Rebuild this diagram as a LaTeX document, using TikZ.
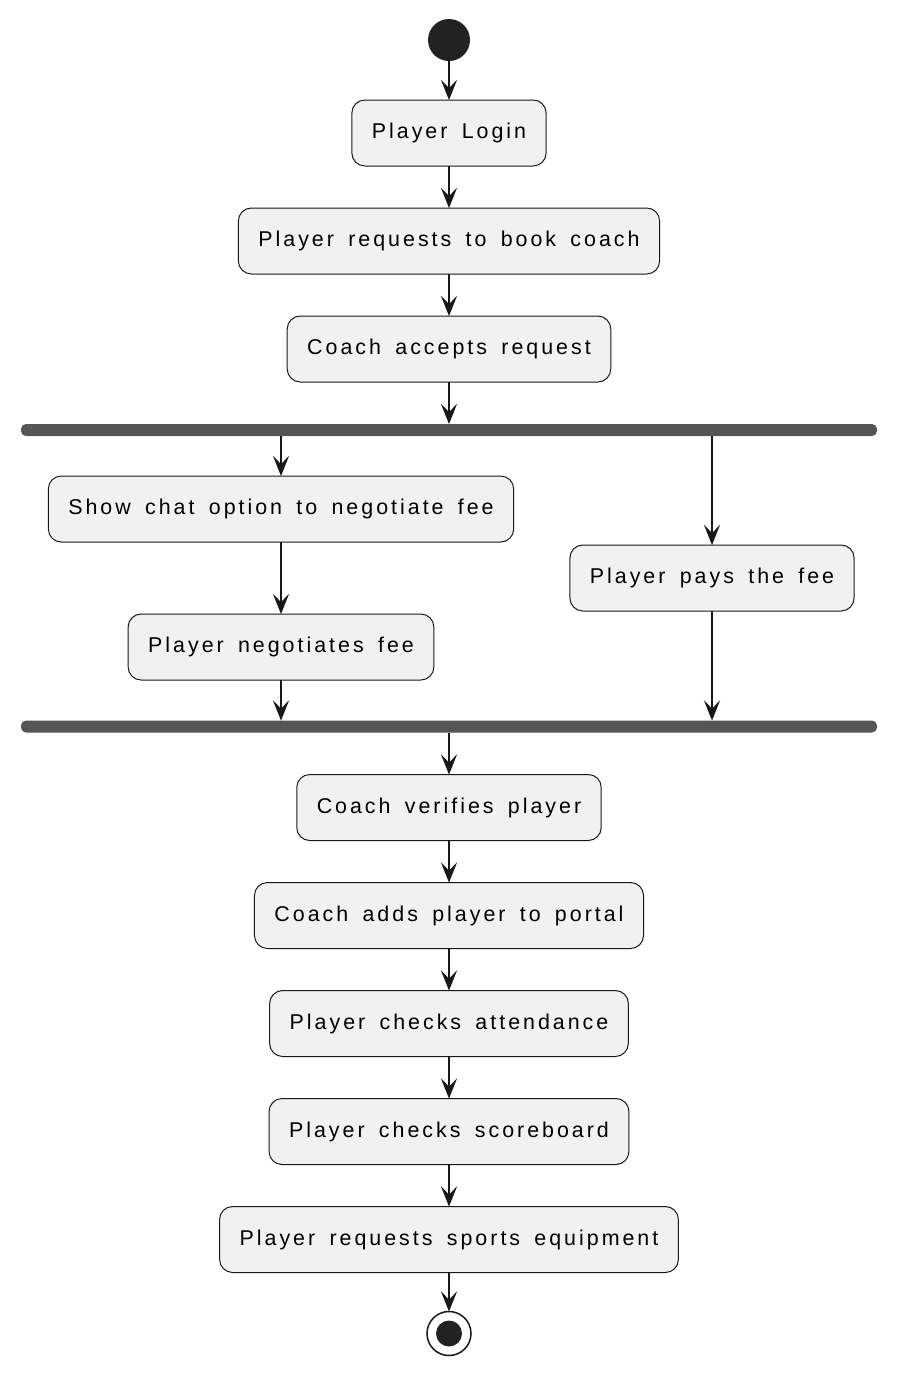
\documentclass[tikz,border=0pt]{standalone}
\usepackage{fontspec}
\newfontfamily\umlfont{Liberation Sans}[LetterSpace=14,WordSpace=1.6]
\usetikzlibrary{positioning,arrows.meta}
\definecolor{umlline}{HTML}{181818}
\definecolor{umlfill}{HTML}{F1F1F1}
\definecolor{umlbar}{HTML}{555555}
\definecolor{umldot}{HTML}{222222}

\begin{document}
\begin{tikzpicture}[node distance=21pt,outer sep=0pt]
        \tikzstyle{act}=[draw=umlline,fill=umlfill,line width=0.5pt,rectangle,rounded corners=6.5pt,minimum height=33pt,inner xsep=10pt,font=\umlfont\fontsize{10.7pt}{12pt}\selectfont]
        \tikzstyle{bar}=[fill=umlbar,rectangle,rounded corners=2.5pt,minimum width=428pt,minimum height=6pt,inner sep=0pt]
        \tikzstyle{flow}=[draw=umlline,line width=0.75pt,-{Stealth[length=10pt,width=8pt,inset=4pt]}]
        \useasboundingbox (0,0) rectangle (449pt,-689pt);

        \node[circle,fill=umldot,minimum size=21pt,inner sep=0pt] (start) at (224.5pt,-20pt) {};
        \node[act] (login) [below=19.5pt of start] {Player Login};
        \node[act] (book) [below=of login] {Player requests to book coach};
        \node[act] (accept) [below=of book] {Coach accepts request};
        \node[bar] (fork) [below=of accept] {};

        \node[act] (chat) [below=20pt of fork, xshift=-84pt] {Show chat option to negotiate fee};
        \node[act] (nego) [below=36pt of chat] {Player negotiates fee};
        \node[act] (pay) [below=54.5pt of fork, xshift=131.5pt] {Player pays the fee};
        \node[bar,anchor=north] (join) at ([yshift=-20.25pt]nego.south -| fork) {};

        \node[act] (verify) [below=of join] {Coach verifies player};
        \node[act] (portal) [below=of verify] {Coach adds player to portal};
        \node[act] (attend) [below=of portal] {Player checks attendance};
        \node[act] (score) [below=of attend] {Player checks scoreboard};
        \node[act] (equip) [below=of score] {Player requests sports equipment};
        \node[circle,draw=umlline,line width=0.75pt,fill=white,minimum size=22pt,inner sep=0pt] (stop) [below=19.5pt of equip] {};
        \node[circle,fill=umldot,minimum size=13pt,inner sep=0pt] (stopdot) at (stop) {};

        \foreach \a/\b in {start/login,login/book,book/accept,accept/fork,chat/nego,join/verify,verify/portal,portal/attend,attend/score,score/equip,equip/stop}
            \draw[flow] (\a) -- (\b);
        \draw[flow] (fork.south -| chat) -- (chat);
        \draw[flow] (fork.south -| pay) -- (pay);
        \draw[flow] (nego) -- (nego.south |- join.north);
        \draw[flow] (pay) -- (pay.south |- join.north);
    \end{tikzpicture}
\end{document}
